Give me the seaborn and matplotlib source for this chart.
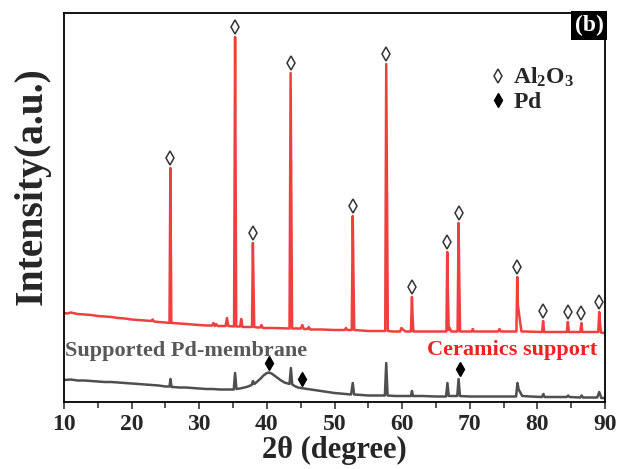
import numpy as np
import pandas as pd
import matplotlib
matplotlib.use("Agg")
import matplotlib.pyplot as plt
from matplotlib.lines import Line2D
from matplotlib.transforms import offset_copy
import seaborn as sns

# ---------------- data ----------------
# Ceramics support (red trace): vertices (2theta, intensity a.u.)
red_2theta = [10, 10.5, 11, 12, 13, 14, 15, 16, 17, 18, 19, 20, 21, 22, 22.9, 23.1, 23.3, 24, 25,
              25.6, 25.73, 25.87, 26.1, 27, 28, 29, 30, 31, 31.9, 32.1, 32.3, 32.5, 32.7, 33.5,
              33.9, 34.1, 34.3, 35.15, 35.3, 35.47, 35.7, 36.05, 36.2, 36.4, 37.8, 37.93, 38.03,
              38.13, 38.6, 39.0, 39.2, 39.4, 41, 43.35, 43.51, 43.62, 43.73, 44.1, 45.0, 45.25,
              45.45, 46.0, 46.2, 46.4, 48, 50, 51.5, 51.7, 51.9, 52.55, 52.7, 52.8, 52.92, 54,
              55, 57.5, 57.65, 57.77, 57.89, 58.6, 59.7, 59.9, 60.2, 60.5, 61.3, 61.45, 61.55,
              61.67, 63, 65, 66.55, 66.67, 66.77, 66.89, 67.05, 67.25, 68.2, 68.35, 68.45, 68.57,
              69.5, 70.3, 70.45, 70.6, 72, 74.2, 74.4, 74.6, 76.9, 77.02, 77.12, 77.25, 77.45,
              77.65, 78.1, 80.7, 80.85, 81.0, 82, 84.35, 84.51, 84.65, 86.35, 86.51, 86.65, 89.0,
              89.15, 89.27, 89.4, 90]
red_counts = [89, 88.5, 89.5, 88, 87.5, 87, 86, 85.5, 85, 84, 83.5, 82.5, 82, 81.5, 81, 82.5, 80.5, 80, 79.5,
              79, 234, 79, 79, 78.5, 78, 77.5, 77, 76.5, 76.5, 79, 76, 78, 76, 76,
              76, 84, 76, 75.5, 365, 75.5, 75.5, 75.5, 83, 75, 75, 159, 117,
              75, 74.5, 74.5, 77, 74, 74, 73.5, 329, 200, 73.5, 73.5, 73.5, 77,
              73, 73, 75, 72.5, 72.5, 72, 72, 74, 72, 72, 186, 129, 72, 71.5,
              71, 71, 338, 205, 71, 70.5, 70.5, 74, 72, 70.5, 70.5, 105, 85,
              70.5, 70.5, 70.5, 70.5, 150, 109, 72, 74, 70.5, 70.5, 179, 125, 70.5,
              70.5, 70.5, 73, 70.5, 70.5, 70.5, 73, 70.5, 70.5, 125, 97, 90, 80,
              70.5, 70.5, 70, 81, 70, 70, 70, 80, 70, 70, 79, 70, 70,
              90, 78, 69.5, 69]

# Supported Pd-membrane (grey trace)
grey_2theta = [10, 11, 12, 13, 14, 15, 16, 17, 18, 19, 20, 21, 22, 23, 24, 25, 25.6, 25.75,
               25.9, 26.2, 27, 28, 29, 30, 31, 32, 33, 34, 35.1, 35.3, 35.5, 36, 37, 37.75,
               37.95, 38.15, 38.5, 39, 39.5, 40.0, 40.35, 40.8, 41.3, 42, 42.6, 43.35, 43.55, 43.75,
               44.1, 44.6, 45.5, 46.5, 48, 50, 52.45, 52.7, 52.9, 54, 55, 57.45, 57.65, 57.85, 59,
               60, 61.3, 61.45, 61.6, 63, 65, 66.5, 66.7, 66.9, 68.15, 68.35, 68.55, 70, 72,
               74, 76.85, 77.05, 77.25, 77.45, 77.75, 79, 80.65, 80.9, 81.05, 83, 84.35, 84.55, 84.75,
               86.35, 86.55, 86.75, 88.85, 89.15, 89.45, 90]
grey_counts = [22, 22.5, 21.5, 21.5, 21, 20.5, 20, 20, 19.5, 19, 18.5, 18, 17.5, 17, 16.5, 15.5, 15.5, 23,
               15, 15, 14.5, 14.5, 14, 13.5, 13, 13, 12.5, 12.5, 12.5, 29, 13, 13.5, 15, 17,
               21, 18, 20, 23, 26.5, 29, 29.5, 28, 25.5, 22, 19.5, 18, 34, 17.5,
               16, 14.5, 13.5, 12.5, 11, 9, 7.5, 19, 7.5, 7, 6.5, 6.5, 39, 6.5, 6,
               6, 6, 11, 6, 6, 5.5, 5.5, 19, 6, 6, 23, 6, 5.5, 5.5,
               5.5, 5.5, 19, 12, 10, 6, 5.5, 5, 8, 5, 5, 5, 6.5, 5,
               4.5, 6.5, 4.5, 4.5, 10, 4, 4]

# Al2O3 reflections (open diamonds) and Pd reflections (filled diamonds)
al2o3_2theta = [25.73, 35.3, 37.93, 43.51, 52.7, 57.65, 61.45, 66.67, 68.35, 77.02, 80.85, 84.51, 86.51, 89.15]
al2o3_counts = [234, 365, 159, 329, 186, 338, 105, 150, 179, 125, 81, 80, 79, 90]
pd_2theta = [40.3, 45.2, 68.5]
pd_counts = [29.5, 13.5, 23]

xticks = [10, 20, 30, 40, 50, 60, 70, 80, 90]

# ---------------- style ----------------
sns.set_theme(style="ticks")
plt.rcParams["font.family"] = ["Liberation Serif", "DejaVu Serif"]
plt.rcParams["mathtext.fontset"] = "custom"
plt.rcParams["mathtext.rm"] = "Liberation Serif:bold"
plt.rcParams["mathtext.it"] = "Liberation Serif:bold"
plt.rcParams["mathtext.bf"] = "Liberation Serif:bold"

RED = "#ef4040"
GREY = "#4f4f4f"

fig = plt.figure(figsize=(6.19, 4.69), dpi=100)
ax = fig.add_axes([64 / 619, 1 - 402 / 469, 541 / 619, 389 / 469])

df_red = pd.DataFrame({"two_theta": red_2theta, "intensity": red_counts})
df_grey = pd.DataFrame({"two_theta": grey_2theta, "intensity": grey_counts})

sns.lineplot(data=df_red, x="two_theta", y="intensity", ax=ax, color=RED, lw=1.8,
             estimator=None, sort=False)
sns.lineplot(data=df_grey, x="two_theta", y="intensity", ax=ax, color=GREY, lw=1.8,
             estimator=None, sort=False)

# peak markers, lifted above the peak tops
mk_tr = offset_copy(ax.transData, fig=fig, x=0, y=10, units="dots")
ax.plot(al2o3_2theta, al2o3_counts, ls="none", marker="d", ms=7.2, mfc="white",
        mec="#333333", mew=1.1, transform=mk_tr, zorder=5)
ax.plot(pd_2theta, pd_counts, ls="none", marker="d", ms=7.2, mfc="black",
        mec="black", mew=1.0, transform=mk_tr, zorder=5)

ax.set_xlim(10, 90)
ax.set_ylim(0, 389)
ax.set_xticks(xticks)
ax.set_xticks(np.arange(15, 90, 10), minor=True)
ax.set_yticks([])
ax.tick_params(axis="x", which="major", direction="out", length=5, width=1.1,
               labelsize=17, pad=4, top=False)
ax.tick_params(axis="x", which="minor", direction="out", length=4, width=1.1, top=False)
for lab in ax.get_xticklabels():
    lab.set_fontweight("bold")
for sp in ax.spines.values():
    sp.set_linewidth(1.3)
    sp.set_color("black")

ax.set_xlabel("2θ (degree)", fontsize=22, fontweight="bold", labelpad=0.5)
ax.set_ylabel("Intensity(a.u.)", fontsize=28.5, fontweight="bold")
ax.yaxis.set_label_coords(-0.024, 0.555)

# trace labels
ax.text(0.002, 0.13, "Supported Pd-membrane", transform=ax.transAxes, fontsize=16,
        fontweight="bold", color="#585858", ha="left", va="center")
ax.text(0.985, 0.133, "Ceramics support", transform=ax.transAxes, fontsize=16,
        fontweight="bold", color="#ee2222", ha="right", va="center")

# panel tag
ax.text(0.997, 0.995, "(b)", transform=ax.transAxes, fontsize=17, fontweight="bold",
        color="white", ha="right", va="top",
        bbox=dict(boxstyle="square,pad=0.15", fc="black", ec="none"))

# legend
handles = [Line2D([], [], ls="none", marker="d", ms=7.2, mfc="white", mec="#333333", mew=1.1),
           Line2D([], [], ls="none", marker="d", ms=7.2, mfc="black", mec="black")]
labels = [r"$\mathrm{Al_2O_3}$", r"$\mathrm{Pd}$"]
ax.legend(handles, labels, loc="upper left", bbox_to_anchor=(0.79, 0.864), frameon=False,
          fontsize=17, handlelength=0.6, handletextpad=0.3, labelspacing=0.1,
          borderpad=0, borderaxespad=0)

fig.savefig("out.png", dpi=100)
